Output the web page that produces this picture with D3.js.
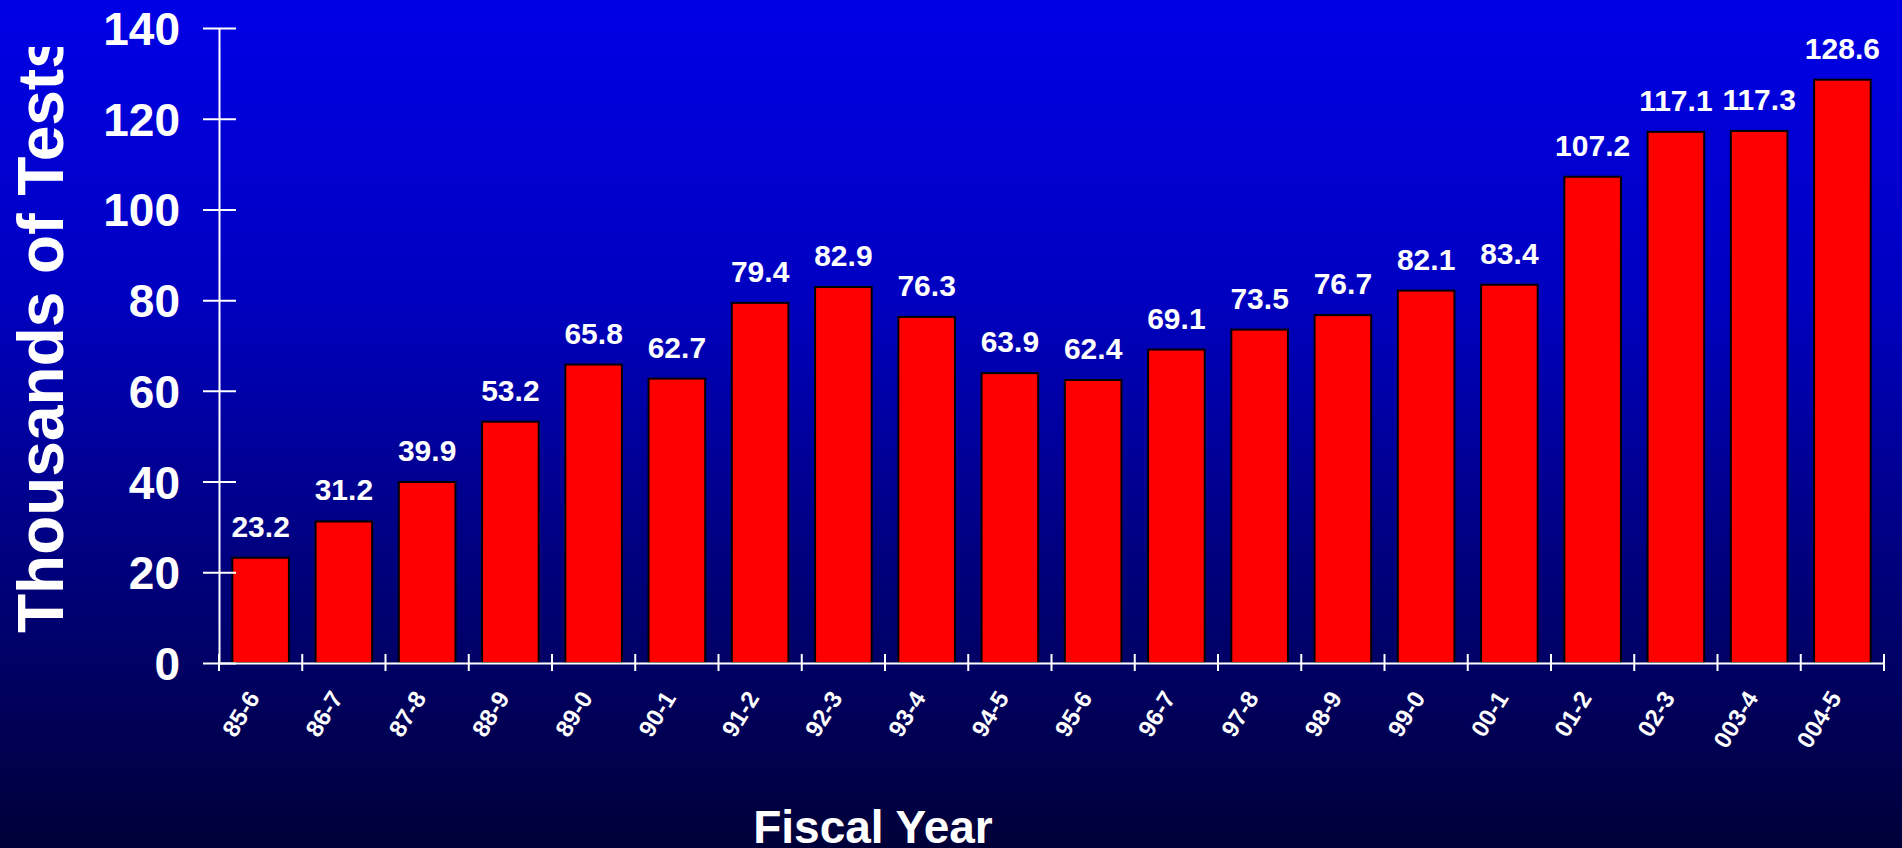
<!DOCTYPE html>
<html>
<head>
<meta charset="utf-8">
<script src="https://cdn.jsdelivr.net/npm/d3@7/dist/d3.min.js"></script>
<style>
  html, body { margin: 0; padding: 0; overflow: hidden; background: #000038; }
  svg { display: block; }
  text { font-family: "Liberation Sans", Arial, Helvetica, sans-serif; font-weight: bold; fill: #ffffff; }
</style>
</head>
<body>
<svg id="chart" width="1902" height="848"></svg>
<script>
// Fiscal years and number of tests (thousands)
const fiscalYears = ["85-6", "86-7", "87-8", "88-9", "89-0", "90-1", "91-2", "92-3", "93-4", "94-5",
                     "95-6", "96-7", "97-8", "98-9", "99-0", "00-1", "01-2", "02-3", "003-4", "004-5"];
const testsThousands = [23.2, 31.2, 39.9, 53.2, 65.8, 62.7, 79.4, 82.9, 76.3, 63.9,
                        62.4, 69.1, 73.5, 76.7, 82.1, 83.4, 107.2, 117.1, 117.3, 128.6];
const yTickValues = [0, 20, 40, 60, 80, 100, 120, 140];

const W = 1902, H = 848;
const plot = { left: 219, right: 1884, top: 28, bottom: 663 };

const svg = d3.select("#chart");
const defs = svg.append("defs");

// Background: vertical blue-to-navy gradient
const grad = defs.append("linearGradient")
  .attr("id", "bg").attr("x1", 0).attr("y1", 0).attr("x2", 0).attr("y2", 1);
[[0, "#0000e6"], [0.35, "#0000c0"], [0.65, "#000080"], [1, "#000038"]].forEach(([o, c]) =>
  grad.append("stop").attr("offset", o).attr("stop-color", c));
svg.append("rect").attr("width", W).attr("height", H).attr("fill", "url(#bg)");

// Scales
const x = d3.scaleBand()
  .domain(fiscalYears)
  .range([plot.left, plot.right])
  .paddingInner(0.32)
  .paddingOuter(0.16);
const y = d3.scaleLinear().domain([0, 140]).range([plot.bottom, plot.top]);

// Bars
svg.append("g").selectAll("rect")
  .data(fiscalYears)
  .join("rect")
  .attr("x", d => x(d))
  .attr("y", (d, i) => y(testsThousands[i]))
  .attr("width", x.bandwidth())
  .attr("height", (d, i) => y(0) - y(testsThousands[i]))
  .attr("fill", "#ff0000")
  .attr("stroke", "#000000")
  .attr("stroke-width", 2);

// Value labels above bars
svg.append("g").selectAll("text")
  .data(fiscalYears)
  .join("text")
  .attr("x", d => x(d) + x.bandwidth() / 2)
  .attr("y", (d, i) => y(testsThousands[i]) - 21)
  .attr("text-anchor", "middle")
  .attr("font-size", 30)
  .text((d, i) => testsThousands[i].toFixed(1));

// Y axis with ticks crossing the axis line
const yAxis = svg.append("g")
  .attr("transform", `translate(${plot.left},0)`)
  .call(d3.axisLeft(y).tickValues(yTickValues).tickSize(16).tickSizeOuter(0).tickPadding(23));
yAxis.select(".domain").attr("stroke", "#ffffff").attr("stroke-width", 2);
yAxis.selectAll(".tick line").attr("stroke", "#ffffff").attr("stroke-width", 2).attr("x1", 17);
yAxis.selectAll(".tick text")
  .attr("font-size", 46)
  .attr("fill", "#ffffff")
  .attr("font-family", null)
  .attr("dy", "0.36em");

// X axis line, category-boundary ticks and rotated labels
const xAxis = svg.append("g")
  .attr("transform", `translate(0,${plot.bottom})`)
  .call(d3.axisBottom(x).tickSize(0).tickSizeOuter(0).tickFormat(""));
xAxis.select(".domain").attr("stroke", "#ffffff").attr("stroke-width", 2);
xAxis.selectAll(".tick").remove();

const step = x.step();
const boundaries = d3.range(fiscalYears.length + 1).map(i => plot.left + i * step);
svg.append("g").selectAll("line")
  .data(boundaries)
  .join("line")
  .attr("x1", d => d).attr("x2", d => d)
  .attr("y1", plot.bottom - 9).attr("y2", plot.bottom + 8)
  .attr("stroke", "#ffffff").attr("stroke-width", 2);

svg.append("g").selectAll("text")
  .data(fiscalYears)
  .join("text")
  .attr("transform", d => `translate(${x(d) + x.bandwidth() / 2},${plot.bottom + 35}) rotate(-58)`)
  .attr("text-anchor", "end")
  .attr("font-size", 24)
  .text(d => d);

// Axis titles (the vertical one is clipped by its text box near the top)
defs.append("clipPath").attr("id", "ytitle-clip")
  .append("rect").attr("x", 0).attr("y", 47).attr("width", 120).attr("height", H);
svg.append("g").attr("clip-path", "url(#ytitle-clip)")
  .append("text")
  .attr("transform", "translate(63,633) rotate(-90)")
  .attr("text-anchor", "start")
  .attr("font-size", 64)
  .text("Thousands of Tests");

svg.append("text")
  .attr("x", 873)
  .attr("y", 843)
  .attr("text-anchor", "middle")
  .attr("font-size", 46)
  .text("Fiscal Year");
</script>
</body>
</html>
